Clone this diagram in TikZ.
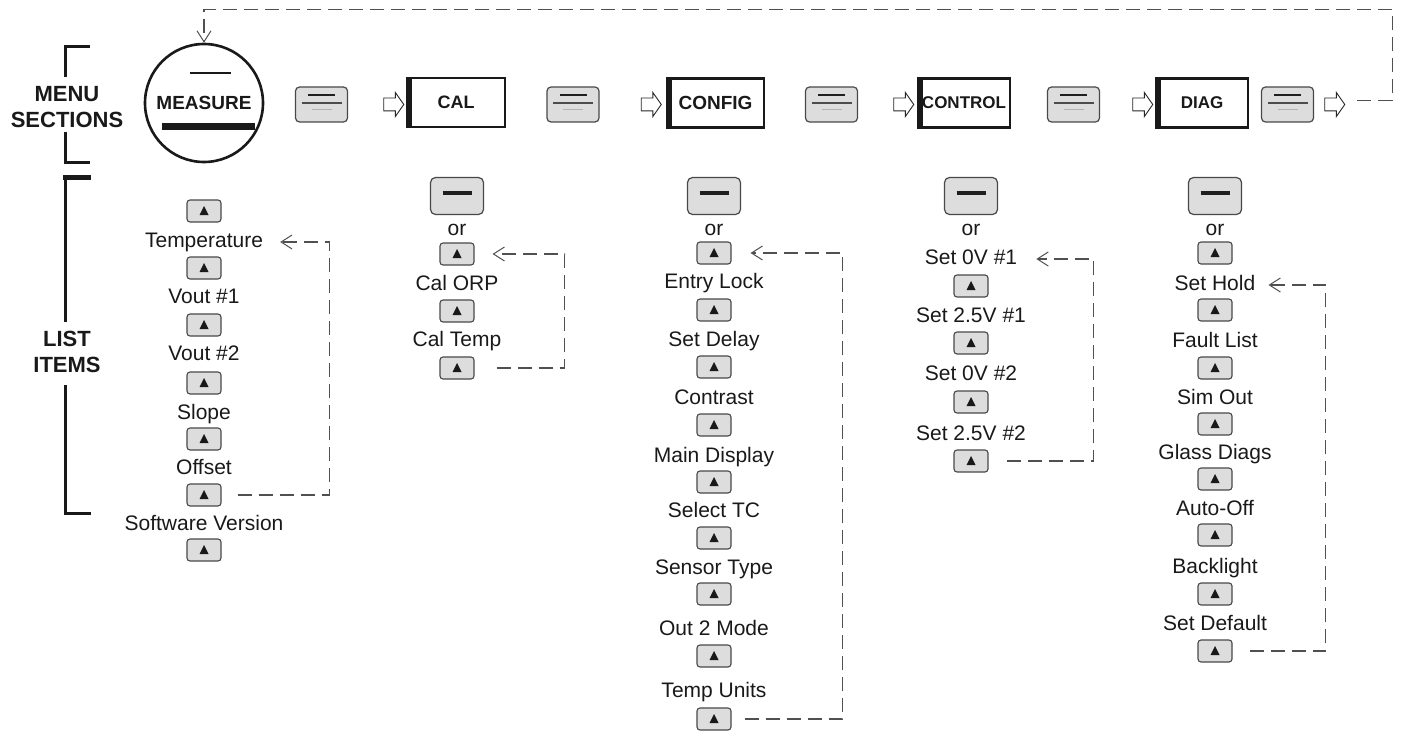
\documentclass[tikz,border=0pt]{standalone}
\usepackage{fontspec}
\setmainfont{Liberation Sans}
\usetikzlibrary{arrows.meta,shapes.arrows}
\definecolor{keyfill}{HTML}{DDDDDD}
\definecolor{keyline}{HTML}{484848}
\definecolor{dashcol}{HTML}{505050}
\begin{document}
\begin{tikzpicture}[x=1pt,y=-1pt,
  menukey/.style={draw=keyline, fill=keyfill, line width=1.2pt, rounded corners=4pt,
    minimum width=52pt, minimum height=35pt, inner sep=0pt,
    path picture={
      \draw[line width=2.6pt, black!88] ([xshift=-13.5pt,yshift=9.5pt]path picture bounding box.center) -- ++(27pt,0pt);
      \draw[line width=1.1pt, black!70] ([xshift=-20pt,yshift=1.5pt]path picture bounding box.center) -- ++(40pt,0pt);
      \draw[line width=0.8pt, black!30] ([xshift=-10pt,yshift=-4.5pt]path picture bounding box.center) -- ++(20pt,0pt);
    }},
  minuskey/.style={draw=keyline, fill=keyfill, line width=1.2pt, rounded corners=5pt,
    minimum width=53pt, minimum height=37pt, inner sep=0pt,
    path picture={
      \draw[line width=4pt, black!88] ([xshift=-14.5pt,yshift=3pt]path picture bounding box.center) -- ++(29pt,0pt);
    }},
  upkey/.style={draw=keyline, fill=keyfill, line width=1.1pt, rounded corners=3pt,
    minimum width=34pt, minimum height=22pt, inner sep=0pt,
    path picture={
      \fill[black!90, sharp corners] ([yshift=5pt]path picture bounding box.center)
        -- ([xshift=-4.5pt,yshift=-4pt]path picture bounding box.center)
        -- ([xshift=4.5pt,yshift=-4pt]path picture bounding box.center) -- cycle;
    }},
  secbox/.style={draw=black!90, line width=2.6pt, minimum height=49pt, inner sep=0pt,
    font=\bfseries\fontsize{18}{20}\selectfont, text=black!90,
    path picture={
      \fill[black!90] (path picture bounding box.north west) rectangle ([xshift=5pt]path picture bounding box.south west);
    }},
  hollow/.style={single arrow, draw=black!85, line width=0.9pt, fill=white,
    inner xsep=0pt, inner ysep=6pt, minimum height=20pt, single arrow head extend=5.5pt,
    single arrow tip angle=110},
  item/.style={font=\fontsize{21}{24}\selectfont, text=black!90, inner sep=0pt,
    text height=15pt, text depth=4pt},
  headlbl/.style={font=\bfseries\fontsize{22}{26}\selectfont, text=black!90, align=center, inner sep=0pt},
  bracket/.style={draw=black!90, line width=3pt},
  loopline/.style={draw=dashcol, line width=1.1pt, dash pattern=on 14pt off 7pt,
    -{Straight Barb[length=11pt,width=14pt,line width=1pt]}},
]
\useasboundingbox (0,0) rectangle (1424,733);

% ---------- side labels and brackets ----------
\node[headlbl] (ms) at (67,107) {MENU\\SECTIONS};
\node[headlbl] (li) at (67,351.5) {LIST\\ITEMS};
\draw[bracket] (90,46.5) -- (65,46.5) -- (65,77);
\draw[bracket] (65,132) -- (65,162) -- (90,162);
\draw[draw=black!90, line width=5pt] (63,177.5) -- (91,177.5);
\draw[bracket] (65,177) -- (65,322);
\draw[bracket] (65,385) -- (65,513) -- (91,513);

% ---------- menu row ----------
\node[circle, draw=black!90, line width=2.6pt, minimum size=118pt, inner sep=0pt,
  font=\bfseries\fontsize{19}{21}\selectfont, text=black!90,
  path picture={
    \draw[line width=2.5pt, black!90] ([xshift=-14pt,yshift=30pt]path picture bounding box.center) -- ++(41pt,0pt);
    \draw[line width=7pt, black!90] ([xshift=-42pt,yshift=-24pt]path picture bounding box.center) -- ++(93pt,0pt);
  }] (meas) at (204,103) {MEASURE};

\node[menukey] (k1) at (321.5,104.5) {};
\node[hollow] (a1) at (391.5,104.5) {};
\node[secbox, minimum width=98pt] (cal) at (456,102.5) {CAL};
\node[menukey] (k2) at (573,104.5) {};
\node[hollow] (a2) at (649,104.5) {};
\node[secbox, minimum width=97pt, font=\bfseries\fontsize{19}{21}\selectfont] (config) at (715.5,103) {CONFIG};
\node[menukey] (k3) at (831.5,104.5) {};
\node[hollow] (a3) at (901.5,104.5) {};
\node[secbox, minimum width=92pt, font=\bfseries\fontsize{17}{19}\selectfont] (control) at (964,103) {CONTROL};
\node[menukey] (k4) at (1073.5,104.5) {};
\node[hollow] (a4) at (1140.5,104.5) {};
\node[secbox, minimum width=92pt, font=\bfseries\fontsize{17}{19}\selectfont] (diag) at (1202,103) {DIAG};
\node[menukey] (k5) at (1287.5,104.5) {};
\node[hollow] (a5) at (1332.5,104.5) {};

\draw[loopline] ([xshift=12pt,yshift=4pt]a5.east) -- ++(35pt,0pt) |- ([yshift=33pt]meas.north) -- (meas.north);

% ---------- MEASURE column ----------
\node[upkey] (mb1) at (204,211) {};
\node[item] (mt1) at (204,242) {Temperature};
\node[upkey] (mb2) at (204,268) {};
\node[item] (mt2) at (204,298) {Vout \#1};
\node[upkey] (mb3) at (204,325) {};
\node[item] (mt3) at (204,355) {Vout \#2};
\node[upkey] (mb4) at (204,383) {};
\node[item] (mt4) at (204,414) {Slope};
\node[upkey] (mb5) at (204,439) {};
\node[item] (mt5) at (204,469) {Offset};
\node[upkey] (mb6) at (204,495) {};
\node[item] (mt6) at (204,525) {Software Version};
\node[upkey] (mb7) at (204,550) {};
\draw[loopline] ([xshift=16pt]mb6.east) -- ++(92pt,0pt) |- ([xshift=17pt]mt1.east);

% ---------- CAL column ----------
\node[minuskey] (cm) at (457,196) {};
\node[item] (cor) at (457,230) {or};
\node[upkey] (cb1) at (457,254) {};
\node[item] (ct1) at (457,285) {Cal ORP};
\node[upkey] (cb2) at (457,311) {};
\node[item] (ct2) at (457,341) {Cal Temp};
\node[upkey] (cb3) at (457,368) {};
\draw[loopline] ([xshift=22pt]cb3.east) -- ++(68pt,0pt) |- ([xshift=18pt]cb1.east);

% ---------- CONFIG column ----------
\node[minuskey] (fm) at (714,196) {};
\node[item] (for) at (714,230) {or};
\node[upkey] (fb1) at (714,253) {};
\node[item] (ft1) at (714,283) {Entry Lock};
\node[upkey] (fb2) at (714,310) {};
\node[item] (ft2) at (714,341) {Set Delay};
\node[upkey] (fb3) at (714,367) {};
\node[item] (ft3) at (714,399) {Contrast};
\node[upkey] (fb4) at (714,425) {};
\node[item] (ft4) at (714,457) {Main Display};
\node[upkey] (fb5) at (714,482) {};
\node[item] (ft5) at (714,512) {Select TC};
\node[upkey] (fb6) at (714,538) {};
\node[item] (ft6) at (714,569) {Sensor Type};
\node[upkey] (fb7) at (714,594) {};
\node[item] (ft7) at (714,630) {Out 2 Mode};
\node[upkey] (fb8) at (714,656) {};
\node[item] (ft8) at (714,692) {Temp Units};
\node[upkey] (fb9) at (714,719) {};
\draw[loopline] ([xshift=13pt]fb9.east) -- ++(98pt,0pt) |- ([xshift=19pt]fb1.east);

% ---------- CONTROL column ----------
\node[minuskey] (km) at (971,196) {};
\node[item] (kor) at (971,230) {or};
\node[item] (kt1) at (971,259) {Set 0V \#1};
\node[upkey] (kb1) at (971,286) {};
\node[item] (kt2) at (971,317) {Set 2.5V \#1};
\node[upkey] (kb2) at (971,343) {};
\node[item] (kt3) at (971,375) {Set 0V \#2};
\node[upkey] (kb3) at (971,402) {};
\node[item] (kt4) at (971,435) {Set 2.5V \#2};
\node[upkey] (kb4) at (971,461) {};
\draw[loopline] ([xshift=18pt]kb4.east) -- ++(87pt,0pt) |- ([xshift=19pt]kt1.east);

% ---------- DIAG column ----------
\node[minuskey] (dm) at (1215,196) {};
\node[item] (dor) at (1215,230) {or};
\node[upkey] (db1) at (1215,253) {};
\node[item] (dt1) at (1215,285) {Set Hold};
\node[upkey] (db2) at (1215,310) {};
\node[item] (dt2) at (1215,342) {Fault List};
\node[upkey] (db3) at (1215,368) {};
\node[item] (dt3) at (1215,399) {Sim Out};
\node[upkey] (db4) at (1215,424) {};
\node[item] (dt4) at (1215,454) {Glass Diags};
\node[upkey] (db5) at (1215,479) {};
\node[item] (dt5) at (1215,510) {Auto-Off};
\node[upkey] (db6) at (1215,535) {};
\node[item] (dt6) at (1215,568) {Backlight};
\node[upkey] (db7) at (1215,594) {};
\node[item] (dt7) at (1215,625) {Set Default};
\node[upkey] (db8) at (1215,651) {};
\draw[loopline] ([xshift=17pt]db8.east) -- ++(76pt,0pt) |- ([xshift=13pt]dt1.east);
\end{tikzpicture}
\end{document}
